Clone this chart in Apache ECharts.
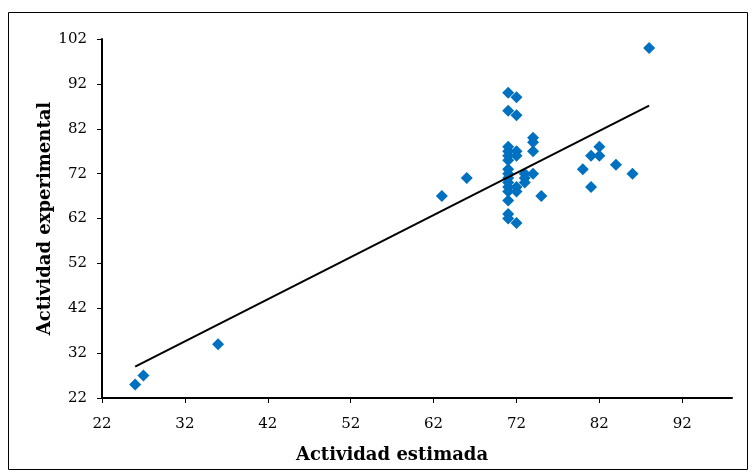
<!DOCTYPE html>
<html>
<head>
<meta charset="utf-8">
<script src="https://cdn.jsdelivr.net/npm/echarts@6/dist/echarts.min.js"></script>
<style>
  html, body { margin: 0; padding: 0; background: #fff; }
  #chart { width: 752px; height: 476px; }
</style>
</head>
<body>
<div id="chart"></div>
<script>
// Estimated activity (x) and experimental activity (y) for each compound
const estimada = [
  26, 27, 36, 63, 66, 88,
  71, 71, 71, 71, 71, 71, 71, 71, 71, 71, 71, 71, 71, 71, 71,
  72, 72, 72, 72, 72, 72, 72,
  73, 73, 73,
  74, 74, 74, 74,
  75,
  80, 81, 81, 82, 82, 84, 86
];
const experimental = [
  25, 27, 34, 67, 71, 100,
  90, 86, 78, 77, 76, 75, 73, 72, 71, 70, 69, 68, 66, 63, 62,
  89, 85, 77, 76, 69, 68, 61,
  72, 71, 70,
  80, 79, 77, 72,
  67,
  73, 76, 69, 78, 76, 74, 72
];
const xTicks = [22, 32, 42, 52, 62, 72, 82, 92];
const yTicks = [22, 32, 42, 52, 62, 72, 82, 92, 102];

// Least-squares trend line across the range of the data
function linearFit(xs, ys) {
  const n = xs.length;
  const mx = xs.reduce((a, b) => a + b, 0) / n;
  const my = ys.reduce((a, b) => a + b, 0) / n;
  let sxy = 0, sxx = 0;
  for (let i = 0; i < n; i++) {
    sxy += (xs[i] - mx) * (ys[i] - my);
    sxx += (xs[i] - mx) * (xs[i] - mx);
  }
  const slope = sxy / sxx;
  return { slope, intercept: my - slope * mx };
}
const fit = linearFit(estimada, experimental);
const xMin = Math.min(...estimada), xMax = Math.max(...estimada);
const trend = [
  [xMin, fit.intercept + fit.slope * xMin],
  [xMax, fit.intercept + fit.slope * xMax]
];

const points = estimada.map((x, i) => [x, experimental[i]]);

const serif = '"DejaVu Serif", "Liberation Serif", serif';
const chart = echarts.init(document.getElementById('chart'), null, { renderer: 'canvas' });
chart.setOption({
  animation: false,
  backgroundColor: '#ffffff',
  graphic: [{
    type: 'rect',
    shape: { x: 8.5, y: 12.5, width: 739, height: 457 },
    style: { fill: 'none', stroke: '#000', lineWidth: 1 },
    silent: true,
    z: -1
  }],
  grid: { left: 102, top: 39, right: 20, bottom: 78 },
  xAxis: {
    type: 'value',
    min: 22,
    max: 98,
    name: 'Actividad estimada',
    nameLocation: 'middle',
    nameGap: 48,
    nameMoveOverlap: false,
    nameTextStyle: { fontFamily: serif, fontWeight: 'bold', fontSize: 18, color: '#000', padding: [0, 50, 0, 0] },
    axisLine: { show: true, onZero: false, lineStyle: { color: '#000', width: 2 } },
    axisTick: { show: true, length: 5, customValues: xTicks, lineStyle: { color: '#000', width: 1 } },
    axisLabel: { customValues: xTicks, margin: 19, fontFamily: serif, fontSize: 15, color: '#000' },
    splitLine: { show: false }
  },
  yAxis: {
    type: 'value',
    min: 22,
    max: 102,
    name: 'Actividad experimental',
    nameLocation: 'middle',
    nameGap: 48,
    nameMoveOverlap: false,
    nameTextStyle: { fontFamily: serif, fontWeight: 'bold', fontSize: 18, color: '#000' },
    axisLine: { show: true, onZero: false, lineStyle: { color: '#000', width: 2 } },
    axisTick: { show: true, length: 5, customValues: yTicks, lineStyle: { color: '#000', width: 1 } },
    axisLabel: { customValues: yTicks, margin: 15, fontFamily: serif, fontSize: 15, color: '#000' },
    splitLine: { show: false }
  },
  series: [
    {
      type: 'line',
      data: trend,
      showSymbol: false,
      lineStyle: { color: '#000', width: 2 },
      z: 3
    },
    {
      type: 'scatter',
      data: points,
      symbol: 'diamond',
      symbolSize: 12,
      itemStyle: { color: '#0070C0', opacity: 1 },
      z: 2
    }
  ]
});
</script>
</body>
</html>
